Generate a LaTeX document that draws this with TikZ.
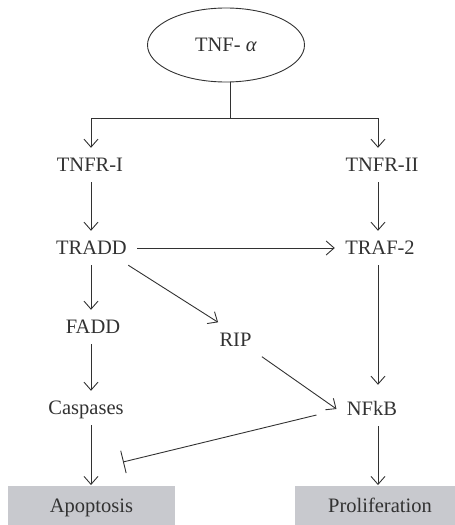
\documentclass[tikz,border=0pt]{standalone}
\usepackage{fontspec}
\setmainfont{Liberation Serif}
\usetikzlibrary{positioning,shapes.geometric,arrows.meta}
\definecolor{boxgray}{RGB}{200,201,206}
\definecolor{ink}{RGB}{50,50,50}

\begin{document}
\begin{tikzpicture}[x=1pt,y=1pt,line width=0.9,draw=ink,>={Straight Barb[length=8,width=14]}]
                    \tikzstyle{every node}=[font=\fontsize{20.5}{24}\selectfont,text=ink,text height=13.5,text depth=0,inner xsep=10,inner ysep=10]
                    \tikzstyle{outcome}=[fill=boxgray,minimum height=40]
                    \clip (0,0) rectangle (455,-525);
                    {
                        \node[ellipse,draw=ink,minimum width=157,minimum height=74,inner sep=0] (tnf) at (226,-45) {TNF- \textit{α}};
                        \node (tnfr1) at (90,-165) {TNFR-I};
                        \node (tnfr2) at (382,-165) {TNFR-II};
                        \node (tradd) at (91.5,-248) {TRADD};
                        \node (traf2) at (380,-248) {TRAF-2};
                        \node (fadd) at (93,-327) {FADD};
                        \node (rip) at (235.5,-339.5) {RIP};
                        \node (casp) at (86,-408) {Caspases};
                        \node (nfkb) at (372,-409) {NFkB};
                        \node[outcome,minimum width=167] (apop) at (91.5,-505.5) {Apoptosis};
                        \node[outcome,minimum width=170] (prolif) at (380,-505.5) {Proliferation};
                    }
                    \coordinate (split) at (230,-118);
                    \coordinate (colL) at (91,0);
                    \coordinate (colR) at (378,0);
                    \coordinate (block) at (123,-462);
                    % receptors
                    \draw (tnf.south -| split) -- (split);
                    \draw[->] (split) -| (colL |- tnfr1.north);
                    \draw[->] (split) -| (colR |- tnfr2.north);
                    \draw[->] (colL |- tnfr1.south) -- (colL |- tradd.north);
                    \draw[->] (colR |- tnfr2.south) -- (colR |- traf2.north);
                    % adaptors
                    \draw[->] (tradd) -- (traf2);
                    \draw[->] ([xshift=-9]tradd.south east) -- ([xshift=9]rip.north west);
                    \draw[->] (colL |- tradd.south) -- (colL |- fadd.north);
                    \draw[->] (colL |- fadd.south) -- (colL |- casp.north);
                    \draw[->] (colR |- traf2.south) -- ([yshift=7]colR |- nfkb.north);
                    \draw[->] (rip.south east) -- (nfkb.west);
                    % outcomes
                    \draw[->] (colL |- casp.south) -- (colL |- apop.north);
                    \draw[-{Bar[width=23]}] ([xshift=-20,yshift=-6]nfkb.west) -- (block);
                    \draw[->] (colR |- nfkb.south) -- (colR |- prolif.north);
                \end{tikzpicture}
\end{document}
